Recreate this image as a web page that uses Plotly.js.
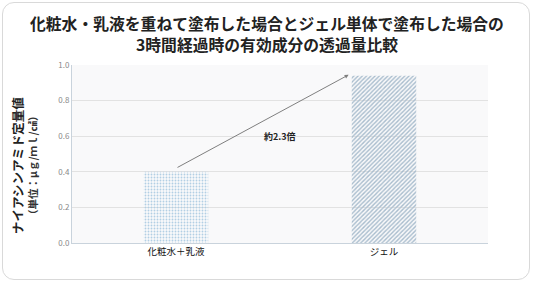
<!DOCTYPE html>
<html>
<head>
<meta charset="utf-8">
<script src="https://cdn.plot.ly/plotly-3.0.1.min.js"></script>
<style>
html,body{margin:0;padding:0;background:#fff;}
#wrap{position:absolute;left:2px;top:2px;width:528px;height:278px;border:1.5px solid #d9d9d9;border-radius:12px;box-sizing:border-box;}
#chart{position:absolute;left:0;top:0;width:536px;height:284px;}
</style>
</head>
<body>
<div id="wrap"></div>
<div id="chart"></div>
<script>
const categories = ["化粧水＋乳液", "ジェル"];
const values = [0.40, 0.94];
const barColors = ["#b2cfe4", "#a8bccd"];
const patternFg = ["#e4f0f8", "#7690a8"];
const patternShapes = [".", "/"];
const patternSolidity = [0.3, 0.45];
const yTicks = [0.0, 0.2, 0.4, 0.6, 0.8, 1.0];
const yTickText = ["0.0", "0.2", "0.4", "0.6", "0.8", "1.0"];
const titleLines = ["化粧水・乳液を重ねて塗布した場合とジェル単体で塗布した場合の", "3時間経過時の有効成分の透過量比較"];
const yTitleLines = ["ナイアシンアミド定量値", "（単位：μｇ/ｍｌ/㎠）"];
const arrowStart = {x: 0, y: 0.42};
const arrowEnd = {x: 0.83, y: 0.945};
const ratioLabel = "約2.3倍";

const font = '"Noto Sans CJK JP", "Noto Sans", sans-serif';
const PL = 72, PW = 416, PT = 65, PH = 178;
const px = v => (v - PL) / PW;
const py = v => (PT + PH - v) / PH;

const trace = {
  type: "bar",
  x: categories,
  y: values,
  width: 0.31,
  marker: {
    color: barColors,
    line: {width: 0},
    pattern: {shape: patternShapes, fgcolor: patternFg, bgcolor: barColors, size: 3, solidity: patternSolidity, fillmode: "replace"}
  },
  hoverinfo: "none"
};

const layout = {
  width: 536, height: 284,
  margin: {l: 72, r: 48, t: 65, b: 41},
  paper_bgcolor: "rgba(0,0,0,0)",
  plot_bgcolor: "#f9f9fa",
  showlegend: false,
  xaxis: {
    type: "category",
    tickfont: {family: font, size: 9.5, color: "#111"},
    showline: true, linecolor: "#c9d3dc", linewidth: 1,
    ticks: "", showgrid: false
  },
  yaxis: {
    range: [0, 1.0],
    tickvals: yTicks, ticktext: yTickText,
    tickfont: {family: font, size: 8, color: "#888"},
    gridcolor: "#e2e2e2", gridwidth: 1,
    showline: true, linecolor: "#c9d3dc", linewidth: 1,
    zeroline: false, ticks: "", ticklen: 0
  },
  annotations: [
    {
      x: px(267), y: py(23), xref: "paper", yref: "paper", xanchor: "center", yanchor: "middle",
      text: "<b>" + titleLines[0] + "</b>", showarrow: false,
      font: {family: font, size: 15.8, color: "#222"}
    },
    {
      x: px(267), y: py(45), xref: "paper", yref: "paper", xanchor: "center", yanchor: "middle",
      text: "<b>" + titleLines[1] + "</b>", showarrow: false,
      font: {family: font, size: 15.8, color: "#222"}
    },
    {
      x: px(17), y: py(166), xref: "paper", yref: "paper", xanchor: "center", yanchor: "middle",
      text: "<b>" + yTitleLines[0] + "</b>", showarrow: false, textangle: -90,
      font: {family: font, size: 12.5, color: "#222"}
    },
    {
      x: px(32), y: py(165), xref: "paper", yref: "paper", xanchor: "center", yanchor: "middle",
      text: "<b>" + yTitleLines[1] + "</b>", showarrow: false, textangle: -90,
      font: {family: font, size: 10.5, color: "#333"}
    },
    {
      x: arrowEnd.x, y: arrowEnd.y, xref: "x", yref: "y",
      ax: arrowStart.x, ay: arrowStart.y, axref: "x", ayref: "y",
      showarrow: true, arrowhead: 2, arrowsize: 0.8, arrowwidth: 1, arrowcolor: "#7f7f7f",
      text: ""
    },
    {
      x: 0.5, y: 0.60, xref: "x", yref: "y",
      text: "<b>" + ratioLabel + "</b>", showarrow: false,
      font: {family: font, size: 9, color: "#222"}
    }
  ]
};

Plotly.newPlot("chart", [trace], layout, {displayModeBar: false, staticPlot: true});
</script>
</body>
</html>
